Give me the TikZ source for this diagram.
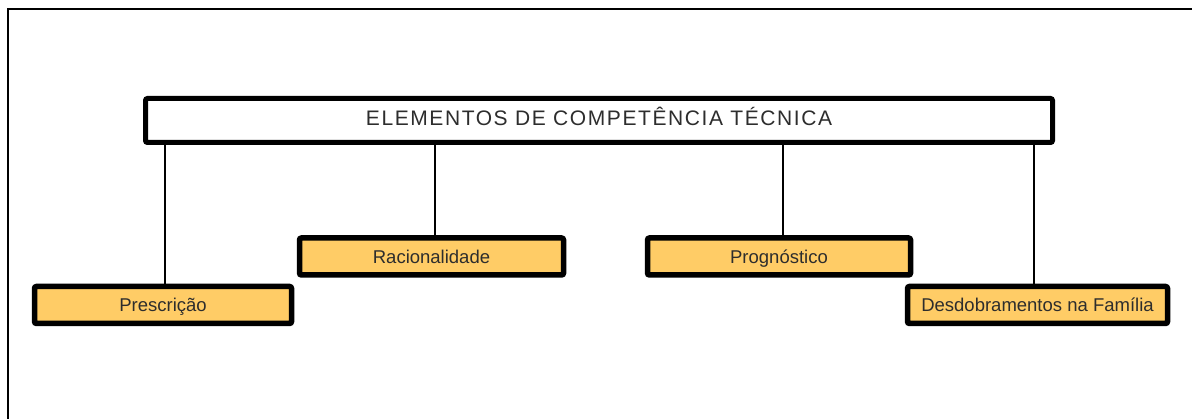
\documentclass[tikz,border=0pt]{standalone}
\usepackage{fontspec}
\setmainfont{Liberation Sans}
\usepackage{xcolor}
\definecolor{boxyellow}{RGB}{255,204,102}
\definecolor{textgray}{RGB}{45,45,45}
\tikzset{
  headbox/.style={draw=black, fill=white, line width=5pt, rounded corners=2pt,
    minimum width=907pt, minimum height=44pt, inner sep=0pt, text=textgray,
    text height=15pt, text depth=5pt,
    font=\fontsize{21}{24}\selectfont\addfontfeature{LetterSpace=7.5}},
  itembox/.style={draw=black, fill=boxyellow, line width=5.5pt, rounded corners=2pt,
    minimum height=37pt, inner sep=0pt, text=textgray,
    text height=13.5pt, text depth=0pt,
    font=\fontsize{18.5}{22}\selectfont},
  link/.style={line width=2pt}
}

\begin{document}
\begin{tikzpicture}[x=1pt,y=1pt]
  \useasboundingbox (0,0) rectangle (1192,419);
  \draw[line width=2.8pt] (8,0) -- (8,410) -- (1192,410);

  \node[headbox] (titulo) at (599,298.5) {ELEMENTOS DE COMPETÊNCIA TÉCNICA};
  \node[itembox, minimum width=257pt] (presc) at (163,114) {Prescrição};
  \node[itembox, minimum width=264pt] (racio) at (431.5,162.5) {Racionalidade};
  \node[itembox, minimum width=263pt] (progn) at (779,162.5) {Prognóstico};
  \node[itembox, minimum width=260pt] (desdo) at (1037.5,114) {Desdobramentos na Família};

  \foreach \n/\dx in {presc/2,racio/3.5,progn/4,desdo/-3.5}
    \draw[link] ([xshift=\dx pt]\n.north) -- ([xshift=\dx pt]\n.north |- titulo.south);
\end{tikzpicture}
\end{document}
